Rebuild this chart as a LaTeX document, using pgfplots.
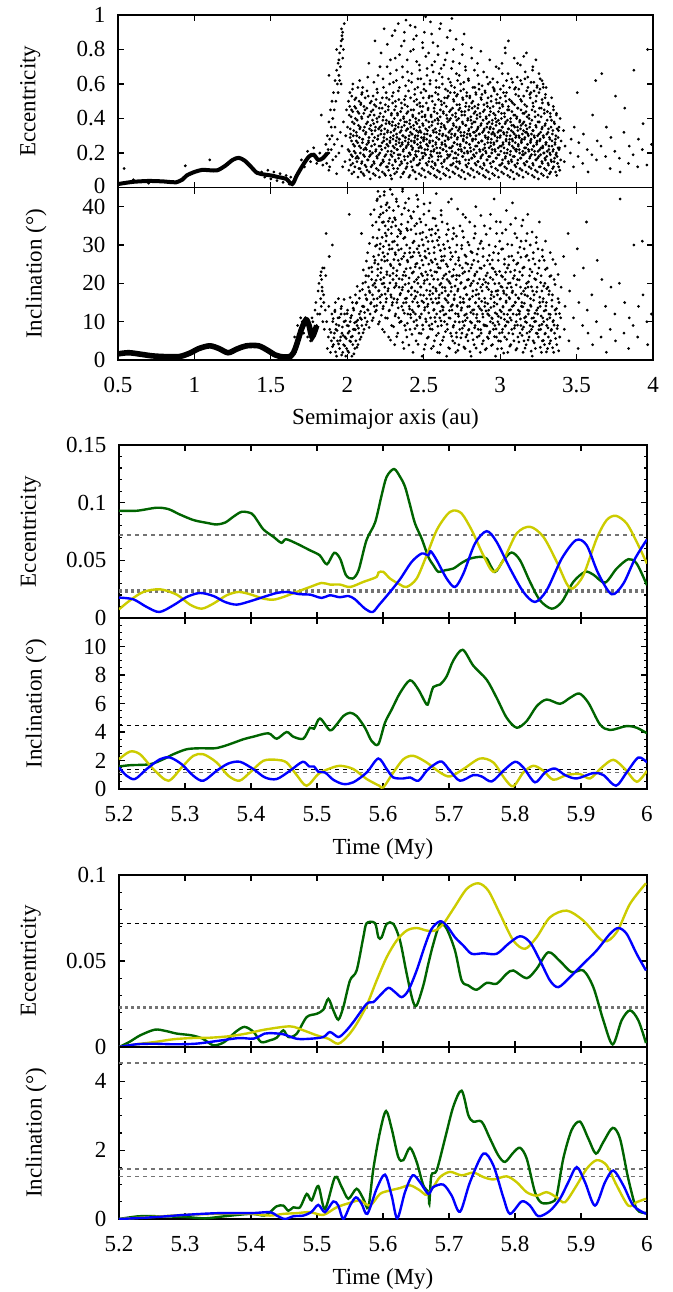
\documentclass[border=0pt]{standalone}
\usepackage{fontspec}
\setmainfont{Liberation Serif}
\usepackage{pgfplots}
\pgfplotsset{compat=1.18}
\definecolor{dgreen}{RGB}{0,100,0}
\definecolor{yel}{RGB}{204,204,0}
\definecolor{blu}{RGB}{0,0,255}
\pgfplotsset{
  base/.style={
    scale only axis, clip=true,
    tick align=inside,
    /pgf/number format/assume math mode=true,
    axis line style={line width=0.75pt},
    every tick/.style={black,line width=0.6pt},
    major tick length=3pt, minor tick length=1.7pt,
    tick label style={font=\fontsize{11.5}{13}\selectfont},
    label style={font=\fontsize{11.5}{13}\selectfont},
    yticklabel style={xshift=-2.8pt, inner ysep=0.5pt},
    xticklabel style={yshift=-5pt},
  },
  toppanel/.style={base, width=267.5pt, height=86.25pt, xmin=0.5, xmax=4,
    xtick={0.5,1,1.5,2,2.5,3,3.5,4}},
  timepanel/.style={base, width=264pt, xmin=5.2, xmax=6,
    xtick={5.2,5.3,5.4,5.5,5.6,5.7,5.8,5.9,6}},
  dots/.style={only marks, mark=*, mark size=0.48pt, mark options={draw=none,fill=black}},
  gcur/.style={dgreen, line width=1.2pt, smooth},
  ycur/.style={yel, line width=1.2pt, smooth},
  bcur/.style={blu, line width=1.2pt, smooth},
  hdash/.style={black, line width=0.5pt, dash pattern=on 2pt off 2pt},
  hgray/.style={black!55, line width=0.8pt, dash pattern=on 2pt off 2pt},
  hdot/.style={black!55, line width=1.6pt, dash pattern=on 1.5pt off 1.5pt},
}
\begin{document}
\begin{tikzpicture}
\path[use as bounding box] (0,0) rectangle (336.5pt,-646pt);

% ---------------- Panel 1: eccentricity vs semimajor axis
\begin{axis}[toppanel, at={(59pt,-7.5pt)}, anchor=north west, ymin=0, ymax=1,
  ytick={0,0.2,0.4,0.6,0.8,1}, yticklabels={\raisebox{2pt}{0},0.2,0.4,0.6,0.8,1}, xticklabels={},
  ylabel={Eccentricity}, ylabel style={at={(axis description cs:-0.164,0.5)}, anchor=center}]
\addplot[black, line width=2pt, smooth] coordinates {(0.5,0.02)(0.55,0.027)(0.6,0.033)(0.65,0.036)(0.7,0.038)(0.75,0.037)(0.8,0.035)(0.85,0.031)(0.88,0.03)(0.92,0.045)(0.95,0.07)(1.0,0.09)(1.05,0.102)(1.1,0.1)(1.15,0.1)(1.2,0.125)(1.25,0.16)(1.29,0.172)(1.33,0.155)(1.37,0.12)(1.41,0.085)(1.46,0.075)(1.5,0.07)(1.55,0.06)(1.6,0.05)(1.64,0.02)(1.67,0.07)(1.71,0.13)(1.75,0.18)(1.78,0.19)(1.81,0.16)(1.84,0.17)(1.87,0.2)};
\addplot[dots] coordinates {
(0.54,0.11)(0.94,0.126)(1.1,0.16)(0.6,0.045)(0.7,0.025)(1.44,0.09)(1.46,0.06)(1.48,0.10)(1.50,0.05)(1.52,0.09)(1.54,0.04)(1.56,0.08)(1.58,0.03)(1.60,0.07)(1.62,0.02)(1.63,0.06)(1.66,0.05)(1.68,0.09)(1.70,0.16)(1.72,0.12)(1.74,0.21)(1.76,0.15)(1.78,0.23)(1.80,0.14)(1.82,0.20)(1.84,0.13)(1.83,0.42)(1.88,0.65)
(1.860,.25)(1.870,.30)(1.880,.38)(1.890,.45)(1.900,.50)(1.910,.55)(1.920,.62)(1.930,.68)(1.940,.72)(1.950,.78)(1.960,.85)(1.970,.90)(1.965,.88)(1.955,.70)(1.945,.65)(1.935,.60)(1.925,.50)(1.915,.45)(1.905,.40)(1.895,.35)(1.885,.28)(1.875,.22)(1.880,.20)(1.900,.30)(1.920,.35)(1.940,.55)(1.960,.60)(1.970,.75)(1.975,.80)(1.980,.95)(1.950,.62)(1.930,.80)(1.958,.82)(1.968,.86)(1.945,.74)(1.962,.92)
(1.850,.18)(1.865,.14)(1.872,.20)(1.885,.12)(1.895,.22)(1.905,.16)(1.915,.25)(1.925,.18)(1.935,.28)(1.945,.20)(1.955,.32)(1.965,.24)(1.975,.38)(1.985,.15)(1.990,.30)(1.995,.45)(1.88,.10)(1.93,.08)(1.97,.12)
(2.010,.10)(2.016,.16)(2.005,.22)(2.019,.29)(2.002,.35)(2.013,.42)(2.008,.50)(2.017,.55)
(2.030,.08)(2.036,.14)(2.025,.19)(2.039,.25)(2.022,.31)(2.033,.38)(2.028,.45)(2.037,.60)
(2.050,.12)(2.056,.17)(2.045,.21)(2.059,.27)(2.042,.33)(2.053,.40)(2.048,.47)(2.057,.52)
(2.070,.06)(2.076,.11)(2.065,.18)(2.079,.24)(2.062,.30)(2.073,.36)(2.068,.44)(2.077,.50)
(2.090,.09)(2.096,.15)(2.085,.20)(2.099,.26)(2.082,.34)(2.093,.41)(2.088,.48)(2.097,.55)(2.081,.62)
(2.110,.07)(2.116,.13)(2.105,.19)(2.119,.23)(2.102,.28)(2.113,.35)(2.108,.43)(2.117,.52)(2.101,.58)
(2.130,.10)(2.136,.16)(2.125,.22)(2.139,.27)(2.122,.32)(2.133,.38)(2.128,.46)(2.137,.53)
(2.150,.05)(2.156,.12)(2.145,.18)(2.159,.24)(2.142,.29)(2.153,.36)(2.148,.42)(2.157,.50)(2.141,.72)
(2.170,.08)(2.176,.14)(2.165,.20)(2.179,.25)(2.162,.31)(2.173,.37)(2.168,.45)(2.177,.48)
(2.190,.11)(2.196,.17)(2.185,.21)(2.199,.28)(2.182,.33)(2.193,.40)(2.188,.47)(2.197,.55)(2.181,.85)
(2.210,.06)(2.216,.13)(2.205,.19)(2.219,.24)(2.202,.30)(2.213,.35)(2.208,.41)(2.217,.49)(2.201,.65)
(2.230,.09)(2.236,.15)(2.225,.22)(2.239,.27)(2.222,.33)(2.233,.39)(2.228,.46)(2.237,.58)(2.221,.78)
(2.250,.07)(2.256,.12)(2.245,.18)(2.259,.25)(2.242,.31)(2.253,.37)(2.248,.44)(2.257,.52)(2.241,.92)
(2.270,.10)(2.276,.16)(2.265,.21)(2.279,.26)(2.262,.32)(2.273,.38)(2.268,.45)(2.277,.60)(2.261,.70)
(2.290,.05)(2.296,.13)(2.285,.19)(2.299,.24)(2.282,.29)(2.293,.36)(2.288,.42)(2.297,.49)(2.281,.66)(2.294,.88)
(2.310,.08)(2.316,.15)(2.305,.20)(2.319,.27)(2.302,.30)(2.313,.34)(2.308,.40)(2.317,.47)(2.301,.55)(2.314,.75)
(2.330,.11)(2.336,.17)(2.325,.22)(2.339,.26)(2.322,.31)(2.333,.35)(2.328,.43)(2.337,.51)(2.321,.62)(2.334,.95)
(2.350,.06)(2.356,.14)(2.345,.19)(2.359,.25)(2.342,.28)(2.353,.33)(2.348,.39)(2.357,.46)(2.341,.58)(2.354,.82)
(2.370,.09)(2.376,.16)(2.365,.21)(2.379,.27)(2.362,.30)(2.373,.36)(2.368,.41)(2.377,.48)(2.361,.70)(2.374,.90)
(2.390,.12)(2.396,.18)(2.385,.23)(2.399,.26)(2.382,.29)(2.393,.34)(2.388,.38)(2.397,.44)(2.381,.53)(2.394,.67)(2.384,.97)
(2.410,.07)(2.416,.15)(2.405,.20)(2.419,.24)(2.402,.28)(2.413,.32)(2.408,.37)(2.417,.45)(2.401,.56)(2.414,.79)
(2.430,.10)(2.436,.17)(2.425,.22)(2.439,.27)(2.422,.31)(2.433,.36)(2.428,.42)(2.437,.50)(2.421,.61)(2.434,.86)
(2.450,.05)(2.456,.13)(2.445,.19)(2.459,.25)(2.442,.29)(2.453,.33)(2.448,.40)(2.457,.48)(2.441,.54)(2.454,.73)(2.444,.93)
(2.470,.08)(2.476,.16)(2.465,.21)(2.479,.26)(2.462,.30)(2.473,.35)(2.468,.39)(2.477,.47)(2.461,.58)(2.474,.68)
(2.490,.11)(2.496,.18)(2.485,.23)(2.499,.28)(2.482,.32)(2.493,.37)(2.488,.44)(2.497,.52)(2.481,.63)(2.494,.81)
(2.510,.06)(2.516,.14)(2.505,.20)(2.519,.25)(2.502,.29)(2.513,.34)(2.508,.41)(2.517,.49)(2.501,.57)(2.514,.76)(2.504,.90)
(2.530,.09)(2.536,.17)(2.525,.22)(2.539,.27)(2.522,.31)(2.533,.38)(2.528,.45)(2.537,.53)(2.521,.65)
(2.550,.12)(2.556,.15)(2.545,.19)(2.559,.24)(2.542,.30)(2.553,.36)(2.548,.42)(2.557,.50)(2.541,.60)(2.554,.71)(2.544,.96)
(2.570,.07)(2.576,.13)(2.565,.21)(2.579,.26)(2.562,.33)(2.573,.39)(2.568,.46)(2.577,.55)(2.561,.84)
(2.590,.10)(2.596,.18)(2.585,.23)(2.599,.28)(2.582,.32)(2.593,.37)(2.588,.43)(2.597,.51)(2.581,.62)(2.594,.77)
(2.610,.05)(2.616,.14)(2.605,.20)(2.619,.25)(2.602,.31)(2.613,.35)(2.608,.41)(2.617,.48)(2.601,.58)(2.614,.69)(2.604,.92)
(2.630,.08)(2.636,.16)(2.625,.22)(2.639,.27)(2.622,.30)(2.633,.36)(2.628,.44)(2.637,.52)(2.621,.64)
(2.650,.11)(2.656,.19)(2.645,.24)(2.659,.29)(2.642,.34)(2.653,.40)(2.648,.47)(2.657,.56)(2.641,.74)(2.654,.87)
(2.670,.06)(2.676,.13)(2.665,.18)(2.679,.23)(2.662,.28)(2.673,.33)(2.668,.39)(2.677,.45)(2.661,.53)(2.674,.61)
(2.690,.09)(2.696,.17)(2.685,.21)(2.699,.26)(2.682,.31)(2.693,.37)(2.688,.42)(2.697,.50)(2.681,.59)(2.694,.80)(2.684,.98)
(2.710,.12)(2.716,.15)(2.705,.20)(2.719,.25)(2.702,.30)(2.713,.35)(2.708,.41)(2.717,.48)(2.701,.55)(2.714,.66)
(2.730,.07)(2.736,.14)(2.725,.19)(2.739,.24)(2.722,.29)(2.733,.34)(2.728,.40)(2.737,.46)(2.721,.54)(2.734,.72)
(2.750,.10)(2.756,.18)(2.745,.22)(2.759,.27)(2.742,.32)(2.753,.38)(2.748,.44)(2.757,.51)(2.741,.60)(2.754,.83)
(2.770,.05)(2.776,.13)(2.765,.20)(2.779,.26)(2.762,.30)(2.773,.36)(2.768,.42)(2.777,.49)(2.761,.57)(2.774,.68)(2.764,.89)
(2.790,.08)(2.796,.16)(2.785,.21)(2.799,.25)(2.782,.29)(2.793,.33)(2.788,.39)(2.797,.47)(2.781,.53)(2.794,.62)
(2.810,.11)(2.816,.17)(2.805,.23)(2.819,.28)(2.802,.31)(2.813,.35)(2.808,.41)(2.817,.46)(2.801,.52)(2.814,.75)
(2.830,.06)(2.836,.14)(2.825,.19)(2.839,.24)(2.822,.28)(2.833,.32)(2.828,.38)(2.837,.44)(2.821,.50)(2.834,.58)
(2.850,.09)(2.856,.15)(2.845,.20)(2.859,.26)(2.842,.30)(2.853,.34)(2.848,.40)(2.857,.48)(2.841,.55)(2.854,.65)
(2.870,.12)(2.876,.18)(2.865,.22)(2.879,.27)(2.862,.31)(2.873,.36)(2.868,.43)(2.877,.51)(2.861,.60)(2.874,.79)
(2.890,.07)(2.896,.13)(2.885,.19)(2.899,.23)(2.882,.27)(2.893,.33)(2.888,.39)(2.897,.45)(2.881,.54)
(2.910,.10)(2.916,.16)(2.905,.21)(2.919,.26)(2.902,.30)(2.913,.35)(2.908,.41)(2.917,.47)(2.901,.56)(2.914,.64)
(2.930,.05)(2.936,.14)(2.925,.18)(2.939,.24)(2.922,.29)(2.933,.34)(2.928,.38)(2.937,.44)(2.921,.52)(2.934,.61)
(2.950,.08)(2.956,.15)(2.945,.20)(2.959,.25)(2.942,.28)(2.953,.32)(2.948,.37)(2.957,.43)(2.941,.50)(2.954,.58)
(2.970,.11)(2.976,.17)(2.965,.22)(2.979,.27)(2.962,.31)(2.973,.36)(2.968,.42)(2.977,.49)(2.961,.57)(2.974,.70)
(2.990,.06)(2.996,.13)(2.985,.19)(2.999,.24)(2.982,.29)(2.993,.33)(2.988,.39)(2.997,.46)(2.981,.54)
(3.010,.09)(3.016,.16)(3.005,.21)(3.019,.25)(3.002,.30)(3.013,.35)(3.008,.40)(3.017,.47)(3.001,.52)(3.014,.66)
(3.030,.12)(3.036,.18)(3.025,.23)(3.039,.28)(3.022,.32)(3.033,.37)(3.028,.43)(3.037,.50)(3.021,.59)(3.034,.78)
(3.050,.07)(3.056,.14)(3.045,.20)(3.059,.26)(3.042,.30)(3.053,.34)(3.048,.39)(3.057,.45)(3.041,.55)(3.054,.85)
(3.070,.10)(3.076,.15)(3.065,.19)(3.079,.24)(3.062,.28)(3.073,.33)(3.068,.38)(3.077,.44)(3.061,.51)(3.074,.63)
(3.090,.05)(3.096,.13)(3.085,.18)(3.099,.22)(3.082,.27)(3.093,.31)(3.088,.36)(3.097,.42)(3.081,.49)(3.094,.57)
(3.110,.08)(3.116,.16)(3.105,.21)(3.119,.25)(3.102,.29)(3.113,.35)(3.108,.40)(3.117,.46)(3.101,.58)(3.114,.72)
(3.130,.11)(3.136,.17)(3.125,.22)(3.139,.26)(3.122,.30)(3.133,.34)(3.128,.38)(3.137,.45)(3.121,.53)(3.134,.62)
(3.150,.06)(3.156,.14)(3.145,.19)(3.159,.23)(3.142,.28)(3.153,.33)(3.148,.37)(3.157,.43)(3.141,.50)(3.154,.76)
(3.170,.09)(3.176,.15)(3.165,.20)(3.179,.25)(3.162,.29)(3.173,.32)(3.168,.36)(3.177,.41)(3.161,.48)(3.174,.56)(3.164,.67)
(3.190,.12)(3.196,.18)(3.185,.22)(3.199,.27)(3.182,.31)(3.193,.35)(3.188,.42)(3.197,.52)(3.181,.64)
(3.210,.07)(3.216,.13)(3.205,.19)(3.219,.24)(3.202,.28)(3.213,.33)(3.208,.39)(3.217,.47)(3.201,.55)(3.214,.70)
(3.230,.10)(3.236,.16)(3.225,.21)(3.239,.26)(3.222,.30)(3.233,.36)(3.228,.44)(3.237,.53)(3.221,.61)(3.234,.74)
(3.250,.05)(3.256,.12)(3.245,.17)(3.259,.22)(3.242,.27)(3.253,.31)(3.248,.38)(3.257,.46)(3.241,.58)(3.254,.66)
(3.270,.08)(3.276,.14)(3.265,.19)(3.279,.23)(3.262,.28)(3.273,.34)(3.268,.41)(3.277,.49)(3.261,.57)(3.274,.62)
(3.290,.11)(3.296,.16)(3.285,.20)(3.299,.25)(3.282,.30)(3.293,.36)(3.288,.45)(3.297,.54)(3.281,.60)
(3.310,.06)(3.316,.13)(3.305,.18)(3.319,.22)(3.302,.26)(3.313,.32)(3.308,.39)(3.317,.48)(3.301,.58)
(3.330,.09)(3.336,.15)(3.325,.20)(3.339,.24)(3.322,.29)(3.333,.35)(3.328,.43)(3.337,.52)
(3.350,.12)(3.356,.17)(3.345,.21)(3.359,.26)(3.342,.31)(3.353,.38)(3.348,.47)
(3.370,.07)(3.376,.14)(3.365,.19)(3.379,.23)(3.362,.28)(3.373,.34)(3.368,.42)
(3.390,.10)(3.396,.16)(3.385,.22)(3.399,.27)(3.382,.33)(3.393,.40)
(3.42,.15)(3.425,.24)(3.415,.33)(3.46,.20)(3.465,.28)(3.48,.12)(3.485,.35)(3.51,.18)(3.515,.26)(3.505,.55)(3.54,.14)(3.545,.31)(3.57,.22)(3.575,.09)(3.60,.19)(3.605,.42)(3.63,.16)(3.635,.27)(3.625,.62)(3.66,.24)(3.665,.66)(3.69,.18)(3.695,.35)(3.72,.11)(3.725,.29)(3.75,.21)(3.755,.53)(3.78,.17)(3.785,.09)(3.81,.32)(3.815,.46)(3.84,.14)(3.845,.24)(3.87,.19)(3.875,.68)(3.90,.12)(3.905,.28)(3.93,.22)(3.935,.37)(3.96,.13)(3.965,.80)(3.99,.25)
};
\addplot[dots] coordinates {
(2.023,.13)(2.013,.21)(2.028,.27)(2.019,.34)(2.025,.41)(2.016,.47)(2.029,.53)
(2.043,.09)(2.033,.18)(2.048,.24)(2.039,.30)(2.045,.37)(2.036,.44)(2.049,.51)(2.034,.57)
(2.063,.15)(2.053,.20)(2.068,.26)(2.059,.32)(2.065,.39)(2.056,.46)(2.069,.58)
(2.083,.11)(2.073,.17)(2.088,.23)(2.079,.29)(2.085,.35)(2.076,.43)(2.089,.49)
(2.103,.08)(2.093,.14)(2.108,.22)(2.099,.28)(2.105,.33)(2.096,.40)(2.109,.47)(2.094,.54)
(2.123,.12)(2.113,.18)(2.128,.25)(2.119,.31)(2.125,.37)(2.116,.45)(2.129,.56)
(2.143,.09)(2.133,.16)(2.148,.21)(2.139,.26)(2.145,.34)(2.136,.41)(2.149,.49)(2.134,.64)
(2.163,.13)(2.153,.19)(2.168,.27)(2.159,.33)(2.165,.39)(2.156,.44)(2.169,.53)
(2.183,.07)(2.173,.15)(2.188,.22)(2.179,.29)(2.185,.35)(2.176,.42)(2.189,.51)(2.174,.61)
(2.203,.10)(2.193,.18)(2.208,.24)(2.199,.28)(2.205,.34)(2.196,.38)(2.209,.46)(2.194,.57)
(2.223,.14)(2.213,.20)(2.228,.26)(2.219,.31)(2.225,.36)(2.216,.43)(2.229,.52)(2.214,.70)
(2.243,.08)(2.233,.16)(2.248,.23)(2.239,.29)(2.245,.34)(2.236,.41)(2.249,.48)(2.234,.63)
(2.263,.12)(2.253,.19)(2.268,.24)(2.259,.28)(2.265,.33)(2.256,.39)(2.269,.47)(2.254,.55)(2.262,.83)
(2.283,.07)(2.273,.14)(2.288,.21)(2.279,.27)(2.285,.32)(2.276,.37)(2.289,.43)(2.274,.51)(2.282,.74)
(2.303,.11)(2.293,.18)(2.308,.23)(2.299,.28)(2.305,.33)(2.296,.38)(2.309,.45)(2.294,.53)(2.302,.61)
(2.323,.09)(2.313,.16)(2.328,.22)(2.319,.25)(2.325,.29)(2.316,.36)(2.329,.42)(2.314,.50)(2.322,.68)(2.312,.91)
(2.343,.13)(2.333,.19)(2.348,.24)(2.339,.28)(2.345,.32)(2.336,.37)(2.349,.44)(2.334,.56)(2.342,.77)
(2.363,.08)(2.353,.15)(2.368,.22)(2.359,.26)(2.365,.30)(2.356,.35)(2.369,.40)(2.354,.49)(2.362,.64)
(2.383,.11)(2.373,.18)(2.388,.24)(2.379,.29)(2.385,.33)(2.376,.38)(2.389,.43)(2.374,.51)(2.382,.59)(2.372,.85)
(2.403,.06)(2.393,.14)(2.408,.20)(2.399,.25)(2.405,.30)(2.396,.34)(2.409,.39)(2.394,.47)(2.402,.62)(2.392,.74)
(2.423,.12)(2.413,.19)(2.428,.23)(2.419,.27)(2.425,.31)(2.416,.35)(2.429,.41)(2.414,.52)(2.422,.66)(2.412,.94)
(2.443,.09)(2.433,.16)(2.448,.21)(2.439,.26)(2.445,.30)(2.436,.34)(2.449,.38)(2.434,.45)(2.442,.57)(2.432,.80)
(2.463,.13)(2.453,.18)(2.468,.23)(2.459,.28)(2.465,.32)(2.456,.37)(2.469,.43)(2.454,.51)(2.462,.63)(2.452,.88)
(2.483,.07)(2.473,.14)(2.488,.20)(2.479,.24)(2.485,.29)(2.476,.33)(2.489,.41)(2.474,.49)(2.482,.55)(2.472,.71)
(2.503,.10)(2.493,.17)(2.508,.22)(2.499,.27)(2.505,.31)(2.496,.36)(2.509,.42)(2.494,.47)(2.502,.60)(2.492,.84)
(2.523,.13)(2.513,.19)(2.528,.24)(2.519,.28)(2.525,.33)(2.516,.39)(2.529,.46)(2.514,.56)(2.522,.69)(2.512,.99)
(2.543,.08)(2.533,.15)(2.548,.21)(2.539,.26)(2.545,.30)(2.536,.35)(2.549,.41)(2.534,.52)(2.542,.62)(2.532,.78)
(2.563,.11)(2.553,.18)(2.568,.22)(2.559,.27)(2.565,.32)(2.556,.38)(2.569,.44)(2.554,.53)(2.562,.67)(2.552,.89)
(2.583,.06)(2.573,.14)(2.588,.20)(2.579,.25)(2.585,.29)(2.576,.34)(2.589,.40)(2.574,.48)(2.582,.58)(2.572,.73)
(2.603,.09)(2.593,.16)(2.608,.23)(2.599,.28)(2.605,.33)(2.596,.39)(2.609,.45)(2.594,.54)(2.602,.66)(2.592,.82)
(2.623,.12)(2.613,.18)(2.628,.22)(2.619,.26)(2.625,.31)(2.616,.37)(2.629,.43)(2.614,.50)(2.622,.60)(2.612,.95)
(2.643,.07)(2.633,.15)(2.648,.21)(2.639,.25)(2.645,.30)(2.636,.35)(2.649,.42)(2.634,.49)(2.642,.57)(2.632,.71)
(2.663,.10)(2.653,.17)(2.668,.23)(2.659,.28)(2.665,.32)(2.656,.38)(2.669,.44)(2.654,.52)(2.662,.63)(2.652,.78)
(2.683,.13)(2.673,.19)(2.688,.24)(2.679,.29)(2.685,.34)(2.676,.40)(2.689,.46)(2.674,.55)(2.682,.69)(2.672,.91)
(2.703,.08)(2.693,.14)(2.708,.20)(2.699,.26)(2.705,.31)(2.696,.36)(2.709,.43)(2.694,.51)(2.702,.58)(2.692,.73)
(2.723,.11)(2.713,.17)(2.728,.22)(2.719,.28)(2.725,.33)(2.716,.39)(2.729,.45)(2.714,.53)(2.722,.62)(2.712,.86)
(2.743,.06)(2.733,.15)(2.748,.21)(2.739,.25)(2.745,.30)(2.736,.35)(2.749,.42)(2.734,.48)(2.742,.56)(2.732,.65)
(2.763,.09)(2.753,.18)(2.768,.23)(2.759,.28)(2.765,.32)(2.756,.37)(2.769,.44)(2.754,.52)(2.762,.61)(2.752,.77)
(2.783,.12)(2.773,.16)(2.788,.20)(2.779,.26)(2.785,.31)(2.776,.36)(2.789,.40)(2.774,.47)(2.782,.55)(2.772,.70)
(2.803,.07)(2.793,.14)(2.808,.21)(2.799,.25)(2.805,.30)(2.796,.34)(2.809,.39)(2.794,.45)(2.802,.53)(2.792,.63)
(2.823,.10)(2.813,.17)(2.828,.22)(2.819,.27)(2.825,.32)(2.816,.37)(2.829,.43)(2.814,.49)(2.822,.58)(2.812,.81)
(2.843,.13)(2.833,.18)(2.848,.24)(2.839,.28)(2.845,.33)(2.836,.38)(2.849,.42)(2.834,.47)(2.842,.54)(2.832,.68)
(2.863,.08)(2.853,.15)(2.868,.21)(2.859,.26)(2.865,.31)(2.856,.35)(2.869,.41)(2.854,.46)(2.862,.57)(2.852,.72)
(2.883,.11)(2.873,.17)(2.888,.22)(2.879,.27)(2.885,.32)(2.876,.37)(2.889,.44)(2.874,.52)(2.882,.59)
(2.903,.06)(2.893,.14)(2.908,.20)(2.899,.25)(2.905,.29)(2.896,.34)(2.909,.40)(2.894,.48)(2.902,.55)(2.892,.67)
(2.923,.09)(2.913,.16)(2.928,.23)(2.919,.28)(2.925,.32)(2.916,.37)(2.929,.42)(2.914,.49)(2.922,.60)
(2.943,.12)(2.933,.18)(2.948,.22)(2.939,.26)(2.945,.31)(2.936,.35)(2.949,.39)(2.934,.46)(2.942,.53)(2.932,.74)
(2.963,.07)(2.953,.15)(2.968,.21)(2.959,.26)(2.965,.30)(2.956,.34)(2.969,.40)(2.954,.47)(2.962,.56)(2.952,.63)
(2.983,.10)(2.973,.17)(2.988,.23)(2.979,.27)(2.985,.32)(2.976,.38)(2.989,.44)(2.974,.51)(2.982,.61)
(3.003,.13)(2.993,.19)(3.008,.24)(2.999,.29)(3.005,.33)(2.996,.37)(3.009,.43)(2.994,.49)(3.002,.57)(2.992,.69)
(3.023,.08)(3.013,.14)(3.028,.20)(3.019,.26)(3.025,.31)(3.016,.35)(3.029,.41)(3.014,.48)(3.022,.55)(3.012,.72)
(3.043,.11)(3.033,.17)(3.048,.22)(3.039,.27)(3.045,.32)(3.036,.38)(3.049,.45)(3.034,.53)(3.042,.62)(3.032,.81)
(3.063,.06)(3.053,.15)(3.068,.21)(3.059,.25)(3.065,.30)(3.056,.34)(3.069,.40)(3.054,.47)(3.062,.58)(3.052,.66)
(3.083,.09)(3.073,.16)(3.088,.23)(3.079,.28)(3.085,.32)(3.076,.36)(3.089,.42)(3.074,.50)(3.082,.61)
(3.103,.12)(3.093,.18)(3.108,.22)(3.099,.26)(3.105,.30)(3.096,.35)(3.109,.41)(3.094,.48)(3.102,.54)(3.092,.75)
(3.123,.07)(3.113,.14)(3.128,.20)(3.119,.24)(3.125,.29)(3.116,.33)(3.129,.39)(3.114,.46)(3.122,.57)(3.112,.64)
(3.143,.10)(3.133,.17)(3.148,.21)(3.139,.27)(3.145,.31)(3.136,.36)(3.149,.43)(3.134,.51)(3.142,.60)(3.132,.71)
(3.163,.13)(3.153,.19)(3.168,.23)(3.159,.28)(3.165,.32)(3.156,.38)(3.169,.44)(3.154,.53)(3.162,.63)
(3.183,.08)(3.173,.15)(3.188,.21)(3.179,.25)(3.185,.30)(3.176,.34)(3.189,.40)(3.174,.47)(3.182,.58)(3.172,.78)
(3.203,.11)(3.193,.17)(3.208,.22)(3.199,.26)(3.205,.31)(3.196,.37)(3.209,.45)(3.194,.54)(3.202,.61)
(3.223,.06)(3.213,.14)(3.228,.19)(3.219,.24)(3.225,.29)(3.216,.33)(3.229,.41)(3.214,.49)(3.222,.56)(3.212,.68)
(3.243,.09)(3.233,.16)(3.248,.21)(3.239,.25)(3.245,.30)(3.236,.35)(3.249,.42)(3.234,.50)(3.242,.59)
(3.263,.12)(3.253,.18)(3.268,.23)(3.259,.27)(3.265,.32)(3.256,.38)(3.269,.46)(3.254,.55)(3.262,.63)
(3.283,.07)(3.273,.15)(3.288,.20)(3.279,.24)(3.285,.29)(3.276,.35)(3.289,.43)(3.274,.51)(3.282,.58)
(3.303,.10)(3.293,.17)(3.308,.21)(3.299,.26)(3.305,.31)(3.296,.37)(3.309,.44)(3.294,.52)
(3.323,.08)(3.313,.14)(3.328,.19)(3.319,.24)(3.325,.28)(3.316,.34)(3.329,.41)(3.314,.49)
(3.343,.11)(3.333,.16)(3.348,.22)(3.339,.27)(3.345,.33)(3.336,.39)(3.349,.45)
(3.363,.09)(3.353,.15)(3.368,.20)(3.359,.25)(3.365,.30)(3.356,.37)(3.369,.43)
(3.383,.12)(3.373,.18)(3.388,.23)(3.379,.29)(3.385,.35)
};
\end{axis}

% ---------------- Panel 2: inclination vs semimajor axis
\begin{axis}[toppanel, at={(59pt,-93.75pt)}, anchor=north west, ymin=0, ymax=45,
  ytick={0,10,20,30,40}, yticklabels={0,10,20,30,40},
  xticklabels={0.5,1,1.5,2,2.5,3,3.5,4},
  ylabel={Inclination (°)}, ylabel style={at={(axis description cs:-0.153,0.5)}, anchor=center},
  xlabel={Semimajor axis (au)}, xlabel style={at={(axis description cs:0.5,-0.342)}, anchor=center}]
\addplot[black, line width=2.8pt, smooth] coordinates {(0.5,1.6)(0.57,1.9)(0.65,1.5)(0.72,1.1)(0.8,0.9)(0.9,0.9)(0.97,1.8)(1.03,3.0)(1.1,3.7)(1.16,3.0)(1.22,1.9)(1.28,2.9)(1.34,3.7)(1.42,3.7)(1.48,2.5)(1.53,1.3)(1.58,0.8)(1.63,1.0)(1.66,3)(1.7,8)(1.73,10.5)(1.75,9)(1.77,6)(1.8,9)};
\addplot[dots] coordinates {
(1.660,2)(1.666,4)(1.655,6)(1.680,5)(1.686,7)(1.675,9)(1.700,8)(1.706,10)(1.695,11)(1.720,9)(1.726,11)(1.715,7)(1.740,6)(1.746,8)(1.735,10)
(1.760,5)(1.766,7)(1.755,9)(1.769,11)(1.780,6)(1.786,8)(1.775,10)(1.789,13)(1.800,9)(1.806,12)(1.795,15)(1.809,18)
(1.820,12)(1.826,16)(1.815,20)(1.829,23)(1.830,14)(1.836,18)(1.825,22)(1.839,24)(1.840,10)(1.846,15)(1.835,19)(1.849,24)(1.832,21)
(1.850,8)(1.856,13)(1.845,17)(1.859,22)(1.862,33)(1.870,3)(1.876,6)(1.865,10)(1.879,14)(1.890,2)(1.896,5)(1.885,8)(1.899,12)(1.882,27)
(1.910,4)(1.916,7)(1.905,10)(1.919,13)(1.902,30)(1.930,1)(1.936,5)(1.925,8)(1.939,11)(1.922,15)(1.950,3)(1.956,6)(1.945,9)(1.959,12)(1.942,16)
(1.970,2)(1.976,4)(1.965,7)(1.979,10)(1.962,14)(1.990,1)(1.996,3)(1.985,6)(1.999,9)(1.982,12)
(2.010,2)(2.016,5)(2.005,7)(2.019,10)(2.002,13)(2.013,38)(2.030,1)(2.036,4)(2.025,6)(2.039,8)(2.022,11)(2.033,15)
(2.050,3)(2.056,5)(2.045,8)(2.059,10)(2.042,13)(2.053,17)(2.070,4)(2.076,7)(2.065,9)(2.079,12)(2.062,15)
(2.090,6)(2.096,9)(2.085,11)(2.099,14)(2.082,18)(2.093,33)(2.110,8)(2.116,11)(2.105,14)(2.119,17)(2.102,20)
(2.130,10)(2.136,13)(2.125,16)(2.139,19)(2.122,22)(2.133,28)(2.150,12)(2.156,15)(2.145,18)(2.159,21)(2.142,24)(2.153,38)
(2.170,11)(2.176,14)(2.165,17)(2.179,20)(2.162,23)(2.173,27)(2.168,32)
(2.190,13)(2.196,16)(2.185,19)(2.199,22)(2.182,26)(2.193,30)(2.188,36)(2.197,42)
(2.210,10)(2.216,15)(2.205,18)(2.219,21)(2.202,25)(2.213,29)(2.208,34)(2.217,38)(2.201,44)
(2.230,8)(2.236,14)(2.225,17)(2.239,20)(2.222,24)(2.233,28)(2.228,32)(2.237,36)(2.221,40)
(2.250,11)(2.256,16)(2.245,19)(2.259,23)(2.242,27)(2.253,31)(2.248,35)(2.257,39)(2.241,43)
(2.270,6)(2.276,13)(2.265,18)(2.279,22)(2.262,26)(2.273,30)(2.268,34)(2.277,37)(2.261,41)
(2.290,9)(2.296,15)(2.285,17)(2.299,21)(2.282,25)(2.293,29)(2.288,33)(2.297,36)(2.281,44.5)
(2.310,4)(2.316,12)(2.305,16)(2.319,20)(2.302,24)(2.313,28)(2.308,31)(2.317,35)(2.301,39)
(2.330,7)(2.336,11)(2.325,15)(2.339,19)(2.322,22)(2.333,26)(2.328,30)(2.337,34)(2.321,42)
(2.350,10)(2.356,14)(2.345,17)(2.359,21)(2.342,25)(2.353,29)(2.348,33)(2.357,38)
(2.370,3)(2.376,9)(2.365,13)(2.379,16)(2.362,19)(2.373,23)(2.368,27)(2.377,32)(2.361,44)
(2.390,6)(2.396,12)(2.385,15)(2.399,18)(2.382,22)(2.393,26)(2.388,30)(2.397,36)(2.381,41)
(2.410,8)(2.416,11)(2.405,14)(2.419,17)(2.402,20)(2.413,24)(2.408,28)(2.417,34)(2.401,39)
(2.430,2)(2.436,10)(2.425,13)(2.439,16)(2.422,19)(2.433,23)(2.428,27)(2.437,31)(2.421,37)
(2.450,5)(2.456,9)(2.445,12)(2.459,15)(2.442,18)(2.453,21)(2.448,25)(2.457,29)(2.441,35)(2.454,43)
(2.470,7)(2.476,11)(2.465,14)(2.479,17)(2.462,20)(2.473,24)(2.468,28)(2.477,33)(2.461,40)
(2.490,1)(2.496,8)(2.485,12)(2.499,15)(2.482,19)(2.493,22)(2.488,26)(2.497,30)(2.481,36)
(2.510,4)(2.516,10)(2.505,13)(2.519,16)(2.502,20)(2.513,23)(2.508,27)(2.517,32)(2.501,38)
(2.530,6)(2.536,9)(2.525,14)(2.539,17)(2.522,21)(2.533,25)(2.528,29)(2.537,34)
(2.550,3)(2.556,8)(2.545,11)(2.559,15)(2.542,18)(2.553,22)(2.548,26)(2.557,31)(2.541,41)
(2.570,5)(2.576,10)(2.565,13)(2.579,16)(2.562,19)(2.573,23)(2.568,28)(2.577,33)(2.561,37)
(2.590,2)(2.596,7)(2.585,12)(2.599,15)(2.582,18)(2.593,21)(2.588,25)(2.597,30)(2.581,35)
(2.610,4)(2.616,9)(2.605,11)(2.619,14)(2.602,17)(2.613,20)(2.608,24)(2.617,27)(2.601,32)(2.614,39)
(2.630,6)(2.636,10)(2.625,13)(2.639,16)(2.622,19)(2.633,22)(2.628,26)(2.637,29)(2.621,36)
(2.650,1)(2.656,8)(2.645,12)(2.659,15)(2.642,18)(2.653,21)(2.648,25)(2.657,31)
(2.670,3)(2.676,7)(2.665,11)(2.679,14)(2.662,17)(2.673,20)(2.668,23)(2.677,28)(2.661,34)
(2.690,5)(2.696,9)(2.685,13)(2.699,16)(2.682,19)(2.693,22)(2.688,27)(2.697,33)(2.681,42)
(2.710,2)(2.716,6)(2.705,10)(2.719,14)(2.702,17)(2.713,21)(2.708,25)(2.717,30)
(2.730,4)(2.736,8)(2.725,12)(2.739,15)(2.722,18)(2.733,22)(2.728,26)(2.737,35)
(2.750,7)(2.756,10)(2.745,13)(2.759,16)(2.742,20)(2.753,24)(2.748,29)(2.757,38)
(2.770,3)(2.776,6)(2.765,9)(2.779,12)(2.762,15)(2.773,19)(2.768,23)(2.777,27)(2.761,32)
(2.790,5)(2.796,8)(2.785,11)(2.799,14)(2.782,17)(2.793,21)(2.788,25)(2.797,30)
(2.810,1)(2.816,7)(2.805,10)(2.819,13)(2.802,16)(2.813,20)(2.808,24)(2.817,28)(2.801,36)
(2.830,4)(2.836,9)(2.825,12)(2.839,15)(2.822,18)(2.833,22)(2.828,26)(2.837,33)
(2.850,6)(2.856,8)(2.845,11)(2.859,14)(2.842,17)(2.853,20)(2.848,23)(2.857,29)(2.841,40)
(2.870,2)(2.876,7)(2.865,10)(2.879,13)(2.862,16)(2.873,19)(2.868,24)(2.877,31)
(2.890,5)(2.896,9)(2.885,12)(2.899,14)(2.882,18)(2.893,21)(2.888,27)(2.897,35)
(2.910,3)(2.916,6)(2.905,9)(2.919,12)(2.902,15)(2.913,19)(2.908,22)(2.917,26)
(2.930,7)(2.936,10)(2.925,13)(2.939,16)(2.922,20)(2.933,25)(2.928,30)(2.937,38)
(2.950,4)(2.956,8)(2.945,11)(2.959,14)(2.942,17)(2.953,21)(2.948,24)(2.957,28)
(2.970,1)(2.976,6)(2.965,9)(2.979,12)(2.962,15)(2.973,18)(2.968,23)(2.977,33)(2.961,42)
(2.990,5)(2.996,7)(2.985,10)(2.999,13)(2.982,17)(2.993,20)(2.988,26)(2.997,31)
(3.010,3)(3.016,8)(3.005,11)(3.019,14)(3.002,16)(3.013,19)(3.008,22)(3.017,29)(3.001,36)
(3.030,6)(3.036,9)(3.025,12)(3.039,15)(3.022,18)(3.033,21)(3.028,25)(3.037,34)
(3.050,2)(3.056,7)(3.045,10)(3.059,13)(3.042,17)(3.053,20)(3.048,24)(3.057,27)(3.041,39)
(3.070,4)(3.076,8)(3.065,11)(3.079,14)(3.062,16)(3.073,19)(3.068,23)(3.077,30)
(3.090,5)(3.096,9)(3.085,12)(3.099,15)(3.082,18)(3.093,22)(3.088,26)(3.097,33)(3.081,41)
(3.110,3)(3.116,6)(3.105,10)(3.119,13)(3.102,17)(3.113,21)(3.108,25)(3.117,28)(3.101,37)
(3.130,7)(3.136,9)(3.125,12)(3.139,14)(3.122,16)(3.133,19)(3.128,23)(3.137,31)
(3.150,2)(3.156,5)(3.145,8)(3.159,11)(3.142,15)(3.153,18)(3.148,24)(3.157,29)(3.141,35)
(3.170,4)(3.176,7)(3.165,10)(3.179,13)(3.162,17)(3.173,20)(3.168,27)(3.177,33)
(3.190,6)(3.196,9)(3.185,12)(3.199,16)(3.182,19)(3.193,22)(3.188,26)(3.197,30)(3.181,38)
(3.210,1)(3.216,5)(3.205,8)(3.219,11)(3.202,14)(3.213,18)(3.208,23)(3.217,28)
(3.230,3)(3.236,7)(3.225,10)(3.239,13)(3.222,17)(3.233,21)(3.228,25)(3.237,32)
(3.250,6)(3.256,9)(3.245,12)(3.259,15)(3.242,19)(3.253,24)(3.248,29)(3.257,36)
(3.270,2)(3.276,5)(3.265,8)(3.279,11)(3.262,14)(3.273,18)(3.268,22)(3.277,27)
(3.290,4)(3.296,7)(3.285,10)(3.299,13)(3.282,16)(3.293,20)(3.288,26)(3.297,31)
(3.310,3)(3.316,6)(3.305,9)(3.319,12)(3.302,15)(3.313,19)(3.308,24)
(3.330,5)(3.336,8)(3.325,11)(3.339,14)(3.322,18)(3.333,22)(3.328,28)
(3.350,2)(3.356,7)(3.345,10)(3.359,13)(3.342,17)(3.353,21)
(3.370,4)(3.376,9)(3.365,12)(3.379,16)(3.362,25)(3.390,6)(3.396,11)(3.385,15)(3.399,19)
(3.42,8)(3.425,14)(3.415,27)(3.45,5)(3.455,18)(3.445,33)(3.48,11)(3.485,22)(3.51,3)(3.515,15)(3.505,29)(3.54,9)(3.545,24)(3.57,13)(3.575,7)(3.565,36)(3.60,17)(3.605,4)(3.63,10)(3.635,26)(3.66,6)(3.665,21)(3.69,14)(3.695,2)(3.72,8)(3.725,19)(3.75,12)(3.755,5)(3.78,20)(3.785,42)(3.81,7)(3.815,15)(3.84,3)(3.845,11)(3.87,9)(3.875,30)(3.90,6)(3.905,14)(3.93,31)(3.935,17)(3.96,10)(3.965,4)(3.99,12)
};
\addplot[dots] coordinates {
(1.903,3.5)(1.893,7.2)(1.908,10.8)(1.923,2.1)(1.913,5.8)(1.928,9.3)(1.919,12.6)(1.943,4.2)(1.933,7.7)(1.948,11.1)
(1.963,1.3)(1.953,5.1)(1.968,8.6)(1.959,13.4)(1.983,3.7)(1.973,6.4)(1.988,10.2)(1.979,15.8)
(2.003,2.4)(1.993,5.6)(2.008,8.9)(1.999,12.1)(2.023,4.8)(2.013,7.5)(2.028,11.6)(2.019,16.3)
(2.043,1.6)(2.033,6.2)(2.048,9.7)(2.039,13.5)(2.063,3.3)(2.053,7.9)(2.068,10.4)(2.059,14.8)(2.065,19.2)
(2.083,5.4)(2.073,8.3)(2.088,12.7)(2.079,16.1)(2.103,7.1)(2.093,10.6)(2.108,13.9)(2.099,18.4)(2.105,23.5)
(2.123,9.2)(2.113,12.4)(2.128,15.7)(2.119,20.3)(2.125,25.8)(2.143,8.5)(2.133,13.1)(2.148,17.6)(2.139,21.9)(2.145,30.4)
(2.163,10.3)(2.153,14.7)(2.168,19.5)(2.159,24.2)(2.165,35.1)(2.183,12.6)(2.173,15.9)(2.188,20.8)(2.179,25.3)(2.185,29.7)(2.176,39.2)
(2.203,9.4)(2.193,14.2)(2.208,18.1)(2.199,23.7)(2.205,27.4)(2.196,31.8)(2.209,37.3)(2.194,41.6)
(2.223,11.7)(2.213,16.5)(2.228,19.9)(2.219,22.8)(2.225,26.1)(2.216,30.3)(2.229,35.9)(2.214,42.7)
(2.243,7.3)(2.233,13.4)(2.248,17.2)(2.239,21.5)(2.245,25.8)(2.236,29.6)(2.249,33.1)(2.234,38.4)(2.242,43.9)
(2.263,10.9)(2.253,15.1)(2.268,18.6)(2.259,22.3)(2.265,27.7)(2.256,32.4)(2.269,36.2)(2.254,40.5)
(2.283,5.2)(2.273,12.8)(2.288,16.4)(2.279,20.1)(2.285,24.6)(2.276,28.9)(2.289,34.7)(2.274,39.8)
(2.303,8.7)(2.293,14.3)(2.308,18.9)(2.299,22.6)(2.305,26.2)(2.296,30.8)(2.309,37.1)(2.294,43.2)
(2.323,6.1)(2.313,11.5)(2.328,15.8)(2.319,19.4)(2.325,23.3)(2.316,27.5)(2.329,32.2)(2.314,36.6)(2.322,41.3)
(2.343,9.8)(2.333,13.6)(2.348,17.4)(2.339,21.2)(2.345,24.9)(2.336,28.7)(2.349,33.5)(2.334,40.1)
(2.363,4.6)(2.353,10.1)(2.368,14.9)(2.359,18.3)(2.365,22.1)(2.356,26.4)(2.369,31.7)(2.354,35.4)(2.362,44.6)
(2.383,7.8)(2.373,12.2)(2.388,16.1)(2.379,19.7)(2.385,23.8)(2.376,27.9)(2.389,34.3)(2.374,39.6)
(2.403,3.9)(2.393,9.6)(2.408,13.3)(2.399,17.9)(2.405,21.4)(2.396,25.6)(2.409,29.2)(2.394,33.8)(2.402,42.1)
(2.423,6.7)(2.413,11.9)(2.428,15.2)(2.419,18.8)(2.425,22.7)(2.416,26.8)(2.429,30.6)(2.414,37.5)
(2.443,8.2)(2.433,12.5)(2.448,16.6)(2.439,20.4)(2.445,24.3)(2.436,28.1)(2.449,32.9)(2.434,38.7)
(2.463,4.1)(2.453,10.4)(2.468,14.1)(2.459,17.7)(2.465,21.6)(2.456,25.2)(2.469,29.8)(2.454,35.6)(2.462,41.9)
(2.483,6.9)(2.473,11.3)(2.488,15.4)(2.479,19.1)(2.485,22.5)(2.476,27.2)(2.489,31.4)(2.474,36.8)
(2.503,2.8)(2.493,9.1)(2.508,13.7)(2.499,16.9)(2.505,20.7)(2.496,24.8)(2.509,28.4)(2.494,33.3)(2.502,40.7)
(2.523,5.7)(2.513,10.7)(2.528,14.6)(2.519,18.2)(2.525,22.2)(2.516,26.6)(2.529,30.9)(2.514,35.2)
(2.543,8.1)(2.533,12.3)(2.548,15.9)(2.539,19.8)(2.545,23.4)(2.536,27.8)(2.549,32.6)(2.534,38.9)
(2.563,3.6)(2.553,9.4)(2.568,13.2)(2.559,17.3)(2.565,21.1)(2.556,25.5)(2.569,29.4)(2.554,34.1)
(2.583,6.4)(2.573,11.1)(2.588,14.8)(2.579,18.6)(2.585,22.9)(2.576,26.3)(2.589,31.2)(2.574,36.9)(2.582,43.4)
(2.603,1.9)(2.593,8.8)(2.608,12.7)(2.599,16.2)(2.605,19.6)(2.596,24.1)(2.609,28.6)(2.594,33.9)
(2.623,5.1)(2.613,10.2)(2.628,13.8)(2.619,17.5)(2.625,21.3)(2.616,25.9)(2.629,30.1)(2.614,37.8)
(2.643,7.4)(2.633,11.8)(2.648,15.6)(2.639,18.9)(2.645,22.4)(2.636,27.1)(2.649,32.7)
(2.663,3.2)(2.653,9.3)(2.668,12.9)(2.659,16.8)(2.665,20.5)(2.656,24.4)(2.669,29.3)(2.654,35.5)(2.662,41.2)
(2.683,6.2)(2.673,10.9)(2.688,14.4)(2.679,17.9)(2.685,21.8)(2.676,26.2)(2.689,31.6)
(2.703,4.4)(2.693,8.6)(2.708,12.1)(2.699,15.7)(2.705,19.3)(2.696,23.6)(2.709,28.2)(2.694,34.4)
(2.723,2.5)(2.713,7.1)(2.728,11.4)(2.719,14.2)(2.725,18.5)(2.716,22.1)(2.729,26.7)(2.714,32.3)(2.722,39.4)
(2.743,5.8)(2.733,9.9)(2.748,13.6)(2.739,16.4)(2.745,20.2)(2.736,24.7)(2.749,29.9)
(2.763,3.4)(2.753,8.3)(2.768,11.7)(2.759,15.1)(2.765,18.7)(2.756,22.6)(2.769,27.4)(2.754,33.6)
(2.783,6.6)(2.773,10.3)(2.788,13.9)(2.779,17.1)(2.785,20.9)(2.776,25.3)(2.789,30.7)(2.774,37.2)
(2.803,2.2)(2.793,7.8)(2.808,12.4)(2.799,15.8)(2.805,19.4)(2.796,23.2)(2.809,28.3)
(2.823,5.3)(2.813,9.7)(2.828,13.1)(2.819,16.6)(2.825,20.6)(2.816,24.9)(2.829,31.8)
(2.843,3.1)(2.833,8.4)(2.848,11.9)(2.839,14.9)(2.845,18.3)(2.836,22.4)(2.849,27.6)(2.834,34.9)
(2.863,6.3)(2.853,10.1)(2.868,13.4)(2.859,17.2)(2.865,21.1)(2.856,25.7)(2.869,30.4)
(2.883,4.2)(2.873,7.9)(2.888,11.2)(2.879,15.3)(2.885,19.7)(2.876,23.9)(2.889,29.1)(2.874,37.7)
(2.903,2.7)(2.893,9.2)(2.908,12.8)(2.899,16.1)(2.905,20.3)(2.896,24.6)(2.909,32.8)
(2.923,5.6)(2.913,8.9)(2.928,11.6)(2.919,14.7)(2.925,18.4)(2.916,22.7)(2.929,27.3)
(2.943,3.8)(2.933,7.4)(2.948,10.8)(2.939,13.7)(2.945,17.8)(2.936,21.5)(2.949,26.1)(2.934,34.3)
(2.963,6.1)(2.953,9.6)(2.968,12.3)(2.959,16.5)(2.965,19.9)(2.956,23.8)(2.969,29.6)
(2.983,2.9)(2.973,8.1)(2.988,11.4)(2.979,14.6)(2.985,18.1)(2.976,22.3)(2.989,27.8)(2.974,36.1)
(3.003,4.9)(2.993,9.3)(3.008,12.6)(2.999,15.9)(3.005,19.2)(2.996,23.1)(3.009,28.9)
(3.023,1.8)(3.013,7.2)(3.028,10.6)(3.019,13.8)(3.025,17.4)(3.016,21.7)(3.029,26.3)(3.014,33.1)
(3.043,5.4)(3.033,8.8)(3.048,11.9)(3.039,15.4)(3.045,18.8)(3.036,22.9)(3.049,30.2)
(3.063,3.6)(3.053,9.9)(3.068,13.1)(3.059,16.3)(3.065,20.1)(3.056,24.8)(3.069,35.4)
(3.083,6.8)(3.073,10.4)(3.088,14.2)(3.079,17.6)(3.085,21.3)(3.076,27.1)
(3.103,2.6)(3.093,8.3)(3.108,11.8)(3.099,15.1)(3.105,19.6)(3.096,23.4)(3.109,31.9)
(3.123,4.7)(3.113,9.1)(3.128,12.7)(3.119,16.2)(3.125,20.9)(3.116,25.3)(3.129,29.4)
(3.143,6.4)(3.133,10.7)(3.148,13.9)(3.139,17.3)(3.145,22.1)(3.136,26.8)(3.149,36.5)
(3.163,3.1)(3.153,8.6)(3.168,11.3)(3.159,14.8)(3.165,18.7)(3.156,24.2)(3.169,31.1)
(3.183,5.2)(3.173,9.8)(3.188,12.9)(3.179,16.7)(3.185,20.4)(3.176,27.3)
(3.203,2.3)(3.193,7.4)(3.208,10.9)(3.199,14.3)(3.205,19.1)(3.196,23.7)(3.209,33.4)
(3.223,4.5)(3.213,8.7)(3.228,12.2)(3.219,15.6)(3.225,21.2)(3.216,26.4)
(3.243,6.9)(3.233,10.1)(3.248,13.6)(3.239,17.8)(3.245,22.6)(3.236,30.6)
(3.263,3.3)(3.253,7.9)(3.268,11.5)(3.259,16.4)(3.265,20.2)(3.256,25.9)
(3.283,5.1)(3.273,9.3)(3.288,12.8)(3.279,15.2)(3.285,19.3)(3.276,28.7)
(3.303,2.1)(3.293,6.8)(3.308,10.6)(3.299,14.1)(3.305,18.6)(3.296,23.6)
(3.323,4.3)(3.313,8.4)(3.328,11.9)(3.319,17.1)(3.325,21.8)(3.343,3.2)(3.333,7.7)(3.348,10.3)(3.339,15.6)(3.345,26.2)
(3.363,5.6)(3.353,9.1)(3.368,13.4)(3.359,19.7)(3.383,2.4)(3.373,8.2)(3.388,12.1)(3.379,22.3)
};
\end{axis}

% ---------------- Panel 3: eccentricity vs time (first set)
\begin{axis}[timepanel, at={(59.5pt,-222.5pt)}, anchor=north west, height=86.5pt,
  ymin=0, ymax=0.15, ytick={0,0.05,0.1,0.15}, yticklabels={0,0.05,0.1,0.15}, minor y tick num=4,
  xticklabels={},
  ylabel={Eccentricity}, ylabel style={at={(axis description cs:-0.167,0.5)}, anchor=center}]
\addplot[hgray] coordinates {(5.2,0.072)(6,0.072)};
\addplot[hdot] coordinates {(5.2,0.0235)(6,0.0235)};
\addplot[gcur] coordinates {(5.2,0.093)(5.227,0.093)(5.257,0.0956)(5.275,0.0944)(5.292,0.0898)(5.313,0.0849)(5.333,0.0825)(5.348,0.0811)(5.361,0.0828)(5.373,0.0877)(5.386,0.0921)(5.401,0.0906)(5.409,0.0849)(5.419,0.0767)(5.434,0.0704)(5.446,0.0652)(5.453,0.0683)(5.469,0.0646)(5.489,0.0588)(5.504,0.0544)(5.515,0.0466)(5.526,0.0565)(5.535,0.0515)(5.544,0.0371)(5.554,0.0342)(5.563,0.0414)(5.575,0.0675)(5.588,0.0828)(5.598,0.1066)(5.6056,0.1225)(5.6167,0.1292)(5.6258,0.1225)(5.6334,0.1138)(5.641,0.0979)(5.6485,0.082)(5.6586,0.0689)(5.6687,0.053)(5.6763,0.0458)(5.6839,0.04)(5.694,0.0414)(5.7066,0.0429)(5.7192,0.0478)(5.7319,0.0515)(5.747,0.053)(5.7571,0.0515)(5.7697,0.04)(5.7824,0.0501)(5.795,0.0568)(5.8076,0.0501)(5.8228,0.0313)(5.8379,0.0153)(5.8556,0.0081)(5.8708,0.0139)(5.8884,0.0313)(5.9061,0.04)(5.9187,0.0376)(5.9364,0.0307)(5.9541,0.0429)(5.9718,0.051)(5.9844,0.0472)(6.0,0.0284)};
\addplot[ycur] coordinates {(5.2,0.0075)(5.2167,0.0153)(5.2369,0.0226)(5.2621,0.0249)(5.2874,0.0203)(5.3076,0.0116)(5.3253,0.0081)(5.343,0.0125)(5.3631,0.0197)(5.3808,0.0226)(5.3985,0.0206)(5.4187,0.0168)(5.4338,0.0159)(5.449,0.0182)(5.4692,0.0226)(5.4894,0.0269)(5.5071,0.0304)(5.5197,0.029)(5.5348,0.029)(5.55,0.0269)(5.5702,0.0313)(5.5904,0.0356)(5.593,0.0394)(5.6005,0.04)(5.6107,0.0342)(5.6258,0.029)(5.6359,0.0269)(5.651,0.0342)(5.6662,0.0544)(5.6814,0.0762)(5.6965,0.0892)(5.7066,0.0932)(5.7192,0.0906)(5.7344,0.0762)(5.752,0.0544)(5.7672,0.04)(5.7824,0.0501)(5.8026,0.0733)(5.8228,0.0791)(5.843,0.0704)(5.8632,0.0487)(5.8783,0.0298)(5.8874,0.0255)(5.9036,0.0371)(5.9238,0.0689)(5.9389,0.0849)(5.953,0.0886)(5.9692,0.082)(5.9844,0.066)(6.0,0.0472)};
\addplot[bcur] coordinates {(5.2,0.0177)(5.2217,0.0162)(5.2419,0.0096)(5.2611,0.0052)(5.2823,0.011)(5.3025,0.0182)(5.3227,0.0217)(5.343,0.0191)(5.3606,0.0139)(5.3783,0.0116)(5.3985,0.0145)(5.4187,0.0182)(5.4389,0.0217)(5.454,0.0226)(5.4742,0.0206)(5.4894,0.0203)(5.5071,0.0174)(5.5197,0.0197)(5.5348,0.018)(5.5475,0.0191)(5.5576,0.0162)(5.5727,0.0081)(5.5843,0.0052)(5.5944,0.0116)(5.6107,0.0226)(5.6258,0.0336)(5.6435,0.0487)(5.6586,0.0559)(5.6687,0.0544)(5.6723,0.0579)(5.6814,0.0501)(5.6965,0.0342)(5.7091,0.0269)(5.7218,0.0385)(5.7394,0.0646)(5.7571,0.0753)(5.7722,0.066)(5.7925,0.0429)(5.8127,0.0226)(5.8303,0.0139)(5.848,0.024)(5.8708,0.0515)(5.8925,0.0675)(5.9086,0.0631)(5.9263,0.0385)(5.9465,0.0206)(5.9642,0.0298)(5.9819,0.0515)(6.0,0.0681)};
\end{axis}

% ---------------- Panel 4: inclination vs time (first set)
\begin{axis}[timepanel, at={(59.5pt,-309pt)}, anchor=north west, height=85.5pt,
  ymin=0, ymax=12, ytick={0,2,4,6,8,10}, yticklabels={0,2,4,6,8,10},
  minor ytick={0.5,1,1.5,2.5,3,3.5,4.5,5,5.5,6.5,7,7.5,8.5,9,9.5,10.5,11,11.5},
  xticklabels={5.2,5.3,5.4,5.5,5.6,5.7,5.8,5.9,6},
  ylabel={Inclination (°)}, ylabel style={at={(axis description cs:-0.157,0.5)}, anchor=center},
  xlabel={Time (My)}, xlabel style={at={(axis description cs:0.5,-0.35)}, anchor=center}]
\addplot[hdash] coordinates {(5.2,4.48)(6,4.48)};
\addplot[hdash] coordinates {(5.2,1.40)(6,1.40)};
\addplot[hgray] coordinates {(5.2,1.17)(6,1.17)};
\addplot[gcur] coordinates {(5.2,1.58)(5.2167,1.67)(5.247,1.74)(5.2672,2.09)(5.2823,2.44)(5.3025,2.79)(5.3227,2.86)(5.3455,2.86)(5.3631,3.07)(5.3884,3.49)(5.4035,3.67)(5.4263,3.91)(5.4389,3.53)(5.454,4.0)(5.4641,3.67)(5.4793,3.53)(5.4894,4.30)(5.4955,4.23)(5.5045,4.95)(5.5197,4.12)(5.5298,4.53)(5.5399,5.12)(5.55,5.35)(5.5601,5.12)(5.5727,4.30)(5.5828,3.37)(5.5929,3.14)(5.603,4.65)(5.6132,5.58)(5.6258,6.74)(5.641,7.63)(5.6536,6.98)(5.6662,5.93)(5.6702,6.28)(5.6763,7.16)(5.6864,7.33)(5.6965,7.91)(5.7066,9.02)(5.7208,9.77)(5.7369,8.65)(5.7571,7.67)(5.7722,6.40)(5.7874,5.0)(5.8026,4.30)(5.8177,4.77)(5.8329,5.81)(5.848,6.28)(5.8682,5.98)(5.8834,6.40)(5.8975,6.70)(5.9112,6.05)(5.9288,4.53)(5.944,4.14)(5.9692,4.42)(5.9844,4.30)(6.0,3.91)};
\addplot[ycur] coordinates {(5.2,2.09)(5.2167,2.63)(5.2318,2.44)(5.252,1.40)(5.2747,0.58)(5.2949,1.51)(5.3126,2.33)(5.3278,2.44)(5.348,1.86)(5.3657,0.93)(5.3823,0.58)(5.3985,1.16)(5.4187,1.98)(5.4389,2.05)(5.454,1.86)(5.4692,0.98)(5.4843,0.23)(5.502,1.05)(5.5172,1.40)(5.5348,1.63)(5.555,1.40)(5.5753,0.70)(5.5944,0.23)(5.6006,0.12)(5.6157,1.16)(5.6309,2.09)(5.646,2.33)(5.6662,1.86)(5.6864,1.16)(5.7016,0.88)(5.7218,1.40)(5.747,2.14)(5.7672,1.86)(5.7849,0.70)(5.7975,0.19)(5.8127,1.16)(5.8278,1.63)(5.843,1.28)(5.8581,0.65)(5.8783,0.98)(5.8985,1.05)(5.9137,0.74)(5.9314,1.51)(5.949,2.05)(5.9667,1.40)(5.9844,0.51)(6.0,1.28)};
\addplot[bcur] coordinates {(5.2,1.51)(5.2116,0.93)(5.2242,0.70)(5.2419,1.40)(5.2621,2.09)(5.2772,2.21)(5.2949,1.74)(5.3126,0.93)(5.3278,0.58)(5.348,1.28)(5.3657,1.79)(5.3833,1.91)(5.4035,1.40)(5.4212,0.81)(5.4389,0.70)(5.459,1.28)(5.4783,1.91)(5.4884,1.58)(5.4955,1.58)(5.502,1.21)(5.5121,1.16)(5.5247,0.65)(5.5399,0.35)(5.555,0.47)(5.5753,1.16)(5.5929,2.14)(5.6056,1.40)(5.6157,0.81)(5.6309,0.74)(5.641,0.81)(5.6536,0.58)(5.6662,1.28)(5.6763,1.67)(5.6889,1.93)(5.7016,1.28)(5.7167,0.58)(5.7369,0.98)(5.7495,0.88)(5.7647,0.53)(5.7824,1.28)(5.8,1.91)(5.8127,1.51)(5.8303,0.47)(5.8455,1.16)(5.8606,1.44)(5.8758,0.98)(5.8935,0.74)(5.9187,1.12)(5.9339,0.98)(5.953,0.23)(5.9692,1.16)(5.9869,2.21)(6.0,1.86)};
\end{axis}

% ---------------- Panel 5: eccentricity vs time (second set)
\begin{axis}[timepanel, at={(59.5pt,-437.5pt)}, anchor=north west, height=86pt,
  ymin=0, ymax=0.1, ytick={0,0.05,0.1}, yticklabels={0,0.05,0.1}, minor y tick num=4,
  xticklabels={},
  ylabel={Eccentricity}, ylabel style={at={(axis description cs:-0.167,0.5)}, anchor=center}]
\addplot[hdash] coordinates {(5.2,0.072)(6,0.072)};
\addplot[hdot] coordinates {(5.2,0.0232)(6,0.0232)};
\addplot[gcur] coordinates {(5.2,0)(5.2155,0.0029)(5.2322,0.0068)(5.2544,0.0101)(5.271,0.0093)(5.2876,0.0078)(5.3098,0.0068)(5.3265,0.0049)(5.3431,0.001)(5.3597,0.0029)(5.3764,0.0087)(5.3902,0.0117)(5.4041,0.0087)(5.4152,0.0029)(5.4288,0.0039)(5.4389,0.0054)(5.449,0.0097)(5.4566,0.0058)(5.4692,0.0077)(5.4844,0.0174)(5.4995,0.0193)(5.5096,0.0217)(5.5172,0.028)(5.5248,0.0213)(5.5323,0.0159)(5.5399,0.0232)(5.55,0.0387)(5.5601,0.0445)(5.5702,0.0638)(5.5753,0.072)(5.5879,0.072)(5.593,0.0638)(5.598,0.0638)(5.6056,0.0716)(5.6157,0.0716)(5.6258,0.0619)(5.6359,0.0426)(5.645,0.0271)(5.651,0.0242)(5.6611,0.0358)(5.6687,0.0484)(5.6763,0.06)(5.6864,0.0716)(5.6965,0.0687)(5.7091,0.0561)(5.7192,0.0387)(5.7293,0.0358)(5.7419,0.0333)(5.7571,0.0373)(5.7722,0.0368)(5.7874,0.0426)(5.7975,0.0445)(5.8177,0.04)(5.8328,0.0455)(5.8505,0.0551)(5.8682,0.0499)(5.8859,0.0435)(5.9035,0.0445)(5.9187,0.0348)(5.9339,0.0155)(5.948,0.0015)(5.9616,0.0155)(5.9743,0.0213)(5.9869,0.0155)(5.9985,0.0023)};
\addplot[ycur] coordinates {(5.2,0)(5.2266,0.0016)(5.2544,0.0029)(5.2821,0.0045)(5.3098,0.0052)(5.3375,0.0054)(5.3653,0.0062)(5.393,0.0078)(5.4207,0.0101)(5.4591,0.012)(5.4793,0.0097)(5.4995,0.0068)(5.5172,0.0048)(5.5323,0.0019)(5.5475,0.0068)(5.5601,0.0135)(5.5753,0.0242)(5.5904,0.0387)(5.6056,0.0522)(5.6207,0.0619)(5.6359,0.0677)(5.651,0.0692)(5.6662,0.0677)(5.6788,0.0677)(5.6914,0.0716)(5.7066,0.0803)(5.7268,0.0919)(5.7444,0.0952)(5.7596,0.0909)(5.7773,0.0774)(5.7975,0.0619)(5.8152,0.0571)(5.8328,0.0638)(5.853,0.0754)(5.8783,0.0793)(5.9035,0.0735)(5.9339,0.0615)(5.954,0.0667)(5.9742,0.0832)(5.9985,0.0952)};
\addplot[bcur] coordinates {(5.2,0)(5.2266,0.0016)(5.2544,0.0019)(5.2821,0.0016)(5.3154,0.0019)(5.3486,0.0035)(5.3819,0.0052)(5.4041,0.0049)(5.4207,0.0078)(5.4288,0.0081)(5.449,0.0074)(5.4692,0.0048)(5.4894,0.0048)(5.5096,0.0058)(5.5197,0.0087)(5.5323,0.0058)(5.5424,0.0087)(5.555,0.0145)(5.5753,0.0251)(5.5854,0.0261)(5.5955,0.03)(5.6081,0.0344)(5.6182,0.0319)(5.6283,0.029)(5.6384,0.0329)(5.651,0.0445)(5.6636,0.059)(5.6737,0.0687)(5.6864,0.0731)(5.6965,0.0706)(5.7091,0.0638)(5.7217,0.059)(5.7344,0.0542)(5.752,0.0545)(5.7722,0.0542)(5.79,0.06)(5.8076,0.0644)(5.8227,0.0609)(5.8379,0.0503)(5.853,0.0387)(5.8657,0.0348)(5.8833,0.0406)(5.9035,0.0484)(5.9237,0.0561)(5.944,0.0658)(5.9566,0.0692)(5.9692,0.0658)(5.9843,0.0542)(5.9985,0.0445)};
\end{axis}

% ---------------- Panel 6: inclination vs time (second set)
\begin{axis}[timepanel, at={(59.5pt,-523.5pt)}, anchor=north west, height=86pt,
  ymin=0, ymax=5, ytick={0,2,4}, yticklabels={0,2,4},
  minor ytick={0.5,1,1.5,2.5,3,3.5,4.5},
  xticklabels={5.2,5.3,5.4,5.5,5.6,5.7,5.8,5.9,6},
  ylabel={Inclination (°)}, ylabel style={at={(axis description cs:-0.157,0.5)}, anchor=center},
  xlabel={Time (My)}, xlabel style={at={(axis description cs:0.5,-0.35)}, anchor=center}]
\addplot[hgray] coordinates {(5.2,4.54)(6,4.54)};
\addplot[hgray] coordinates {(5.2,1.46)(6,1.46)};
\addplot[hgray] coordinates {(5.2,1.24)(6,1.24)};
\addplot[gcur] coordinates {(5.2,0.0)(5.23,0.08)(5.26,0.08)(5.3,0.06)(5.33,0.02)(5.36,0.08)(5.4,0.15)(5.42,0.1)(5.4288,0.2)(5.4389,0.37)(5.449,0.39)(5.4566,0.24)(5.4642,0.34)(5.4743,0.34)(5.4844,0.73)(5.4919,0.54)(5.502,0.96)(5.5121,0.29)(5.5273,1.22)(5.5374,0.93)(5.5475,0.59)(5.5601,0.88)(5.5702,0.59)(5.5778,0.34)(5.5854,1.46)(5.5955,2.54)(5.6046,3.14)(5.6131,2.63)(5.6232,1.80)(5.6308,1.71)(5.6409,2.07)(5.651,1.66)(5.6611,0.98)(5.6687,0.78)(5.6702,0.44)(5.6733,1.27)(5.6813,1.41)(5.694,2.34)(5.7066,3.27)(5.7192,3.73)(5.7293,3.02)(5.7369,2.83)(5.7495,2.83)(5.7621,2.34)(5.7747,1.85)(5.7849,1.66)(5.7975,1.93)(5.8076,2.07)(5.8177,1.76)(5.8303,0.78)(5.8404,0.47)(5.8556,0.49)(5.8632,0.68)(5.8732,1.76)(5.8859,2.59)(5.8985,2.83)(5.9111,2.34)(5.9227,1.90)(5.9339,2.24)(5.948,2.65)(5.9591,2.34)(5.9717,1.17)(5.9843,0.29)(5.9985,0.18)};
\addplot[ycur] coordinates {(5.2,0)(5.25,0.06)(5.3,0.12)(5.35,0.15)(5.4,0.15)(5.4288,0.1)(5.449,0.15)(5.4692,0.17)(5.4894,0.2)(5.5096,0.12)(5.5298,0.34)(5.55,0.47)(5.5652,0.54)(5.5803,0.39)(5.5955,0.73)(5.6106,0.83)(5.6258,0.90)(5.6409,0.98)(5.6561,0.83)(5.6662,0.70)(5.6763,0.93)(5.6864,1.22)(5.7015,1.37)(5.7192,1.27)(5.7369,1.35)(5.752,1.22)(5.7672,1.15)(5.7874,1.24)(5.8026,1.07)(5.8177,0.78)(5.8328,0.68)(5.848,0.78)(5.8632,0.63)(5.8758,0.49)(5.8935,0.98)(5.9086,1.46)(5.9237,1.71)(5.9389,1.56)(5.954,0.98)(5.9717,0.39)(5.9843,0.49)(5.9985,0.59)};
\addplot[bcur] coordinates {(5.2,0)(5.25,0.05)(5.3,0.12)(5.35,0.17)(5.4,0.17)(5.4288,0.2)(5.4389,0.1)(5.4515,0.0)(5.4642,0.08)(5.4793,0.1)(5.4919,0.21)(5.502,0.41)(5.5121,0.2)(5.5248,0.51)(5.5323,0.39)(5.5399,0.0)(5.55,0.39)(5.5591,0.63)(5.5677,0.44)(5.5763,0.15)(5.5904,0.88)(5.603,1.29)(5.6131,0.68)(5.6217,0.02)(5.6333,0.78)(5.645,1.27)(5.6561,1.07)(5.6687,0.73)(5.6763,0.93)(5.6914,1.0)(5.7041,0.68)(5.7167,0.21)(5.7318,1.07)(5.752,1.90)(5.7672,1.56)(5.7823,0.63)(5.7924,0.15)(5.8101,0.51)(5.8227,0.39)(5.8354,0.08)(5.853,0.24)(5.8682,0.59)(5.8808,1.07)(5.8935,1.51)(5.9061,1.07)(5.9212,0.39)(5.9364,1.07)(5.949,1.41)(5.9641,0.98)(5.9793,0.39)(5.9985,0.15)};
\end{axis}
\end{tikzpicture}
\end{document}
